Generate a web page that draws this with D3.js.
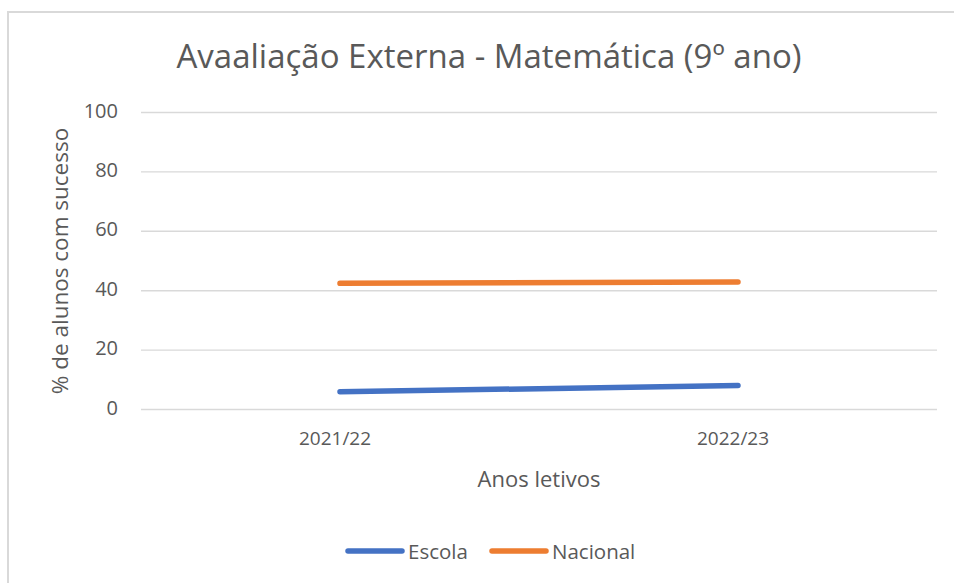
<!DOCTYPE html>
<html>
<head>
<meta charset="utf-8">
<script src="https://cdn.jsdelivr.net/npm/d3@7"></script>
<style>
  body { margin: 0; background: #fff; }
  text { font-family: "Open Sans", sans-serif; fill: #595959; }
</style>
</head>
<body>
<div id="chart"></div>
<script>
var anos = ["2021/22", "2022/23"];
var escola = [5.8, 7.9];
var nacional = [42.3, 42.8];
var yTicks = [0, 20, 40, 60, 80, 100];

var w = 954, h = 583;
var svg = d3.select("#chart").append("svg")
  .attr("width", w)
  .attr("height", h);

// chart frame (right and bottom edges fall outside the picture)
svg.append("path")
  .attr("d", "M8,583 V12 H954")
  .attr("fill", "none")
  .attr("stroke", "#d9d9d9")
  .attr("stroke-width", 2);

var x = d3.scaleBand().domain(anos).range([141, 937]);
var y = d3.scaleLinear().domain([0, 100]).range([409, 112]);

// gridlines
svg.append("g")
  .attr("transform", "translate(141,0)")
  .call(d3.axisLeft(y).tickValues(yTicks).tickSize(-(937 - 141)).tickFormat(""))
  .call(function(g) {
    g.select(".domain").remove();
    g.selectAll("line").attr("stroke", "#d9d9d9").attr("stroke-width", 1.4);
  });

// y labels
svg.append("g")
  .attr("transform", "translate(118,0)")
  .call(d3.axisLeft(y).tickValues(yTicks).tickSize(0).tickPadding(0))
  .call(function(g) {
    g.select(".domain").remove();
    g.selectAll("text").attr("font-size", "20px").attr("fill", "#595959")
      .attr("font-family", "'Open Sans', sans-serif").attr("dy", "0.25em");
  });

// x labels
svg.append("g")
  .attr("transform", "translate(0,431)")
  .call(d3.axisBottom(x).tickSize(0).tickPadding(0))
  .call(function(g) {
    g.select(".domain").remove();
    g.selectAll("text").attr("font-size", "19px").attr("fill", "#595959")
      .attr("font-family", "'Open Sans', sans-serif")
      .attr("dy", "0.71em").attr("dx", -5);
  });

var line = d3.line()
  .x(function(d, i) { return x(anos[i]) + x.bandwidth() / 2; })
  .y(function(d) { return y(d); });

var series = [
  {name: "Escola", values: escola, color: "#4472c4"},
  {name: "Nacional", values: nacional, color: "#ed7d31"}
];

series.forEach(function(s) {
  svg.append("path")
    .datum(s.values)
    .attr("d", line)
    .attr("fill", "none")
    .attr("stroke", s.color)
    .attr("stroke-width", 5.5)
    .attr("stroke-linecap", "round");
});

svg.append("text")
  .attr("x", 489).attr("y", 68)
  .attr("text-anchor", "middle")
  .attr("font-size", "33px")
  .text("Avaaliação Externa - Matemática (9º ano)");

svg.append("text")
  .attr("x", 539).attr("y", 487)
  .attr("text-anchor", "middle")
  .attr("font-size", "22px")
  .text("Anos letivos");

svg.append("text")
  .attr("transform", "translate(68,261) rotate(-90)")
  .attr("text-anchor", "middle")
  .attr("font-size", "22.5px")
  .text("% de alunos com sucesso");

// legend
var legend = svg.append("g");
var lx = [348, 492];
series.forEach(function(s, i) {
  legend.append("line")
    .attr("x1", lx[i]).attr("x2", lx[i] + 54)
    .attr("y1", 551).attr("y2", 551)
    .attr("stroke", s.color).attr("stroke-width", 5.5)
    .attr("stroke-linecap", "round");
  legend.append("text")
    .attr("x", lx[i] + 60).attr("y", 559)
    .attr("font-size", "20.5px")
    .text(s.name);
});
</script>
</body>
</html>
